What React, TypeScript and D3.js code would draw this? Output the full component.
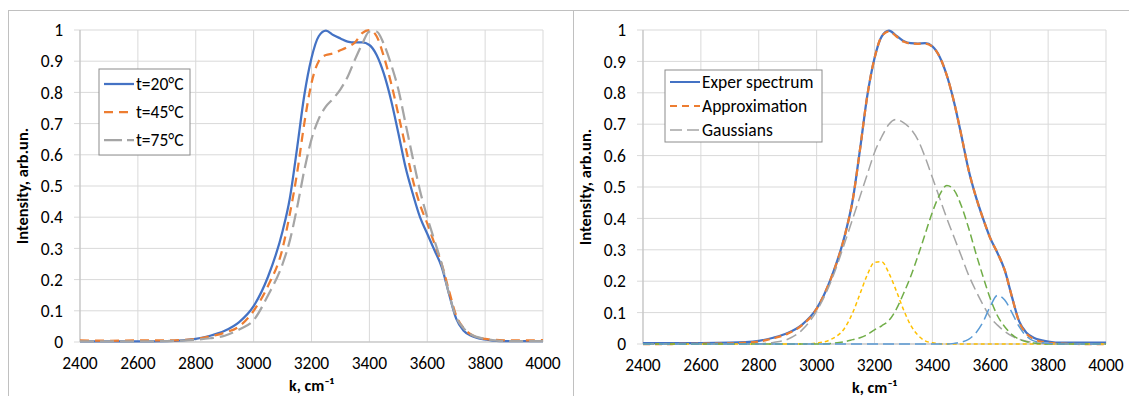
import React from 'react';
import * as d3 from 'd3';

// wavenumber grid, cm^-1
const K = [2400, 2500, 2600, 2700, 2800, 2850, 2900, 2950, 3000, 3050, 3100, 3125, 3150, 3175, 3200, 3225, 3250, 3275, 3300, 3325, 3350, 3375, 3400, 3425, 3450, 3475, 3500, 3525, 3550, 3575, 3600, 3625, 3650, 3675, 3700, 3725, 3750, 3800, 3850, 3900, 4000];

// left panel: spectra at three temperatures
const t20 = [0.002, 0.002, 0.002, 0.003, 0.01, 0.02, 0.036, 0.064, 0.115, 0.21, 0.355, 0.46, 0.62, 0.79, 0.91, 0.98, 0.998, 0.984, 0.973, 0.963, 0.96, 0.96, 0.952, 0.92, 0.86, 0.775, 0.67, 0.56, 0.475, 0.4, 0.347, 0.294, 0.24, 0.155, 0.075, 0.037, 0.021, 0.008, 0.003, 0.003, 0.003];
const t45 = [0.005, 0.004, 0.005, 0.005, 0.01, 0.018, 0.03, 0.05, 0.1, 0.18, 0.3, 0.41, 0.54, 0.7, 0.83, 0.9, 0.92, 0.925, 0.935, 0.946, 0.96, 0.99, 1.0, 0.98, 0.915, 0.83, 0.73, 0.625, 0.52, 0.44, 0.38, 0.315, 0.25, 0.165, 0.085, 0.045, 0.025, 0.01, 0.006, 0.005, 0.006];
const t75 = [0.002, 0.002, 0.002, 0.003, 0.007, 0.012, 0.02, 0.04, 0.07, 0.15, 0.25, 0.325, 0.43, 0.55, 0.65, 0.715, 0.755, 0.78, 0.81, 0.85, 0.905, 0.955, 0.995, 0.995, 0.955, 0.89, 0.81, 0.7, 0.59, 0.485, 0.4, 0.325, 0.25, 0.155, 0.08, 0.045, 0.025, 0.01, 0.004, 0.003, 0.003];

// right panel: experiment, fit and its gaussian components
const exper = [0.003, 0.003, 0.003, 0.004, 0.01, 0.02, 0.035, 0.062, 0.113, 0.21, 0.355, 0.46, 0.62, 0.79, 0.91, 0.98, 0.998, 0.982, 0.965, 0.958, 0.957, 0.958, 0.948, 0.915, 0.855, 0.77, 0.665, 0.555, 0.47, 0.4, 0.337, 0.29, 0.235, 0.15, 0.072, 0.036, 0.02, 0.008, 0.004, 0.004, 0.004];
const approx = [0.0, 0.0, 0.001, 0.002, 0.008, 0.018, 0.033, 0.06, 0.112, 0.21, 0.355, 0.46, 0.62, 0.79, 0.91, 0.98, 0.996, 0.98, 0.963, 0.957, 0.956, 0.957, 0.947, 0.915, 0.855, 0.77, 0.665, 0.555, 0.47, 0.4, 0.337, 0.29, 0.235, 0.15, 0.07, 0.033, 0.016, 0.004, 0.001, 0.0, 0.0];
const gBig = [0, 0, 0, 0, 0.001, 0.005, 0.015, 0.045, 0.105, 0.2, 0.33, 0.4, 0.47, 0.54, 0.61, 0.66, 0.7, 0.715, 0.705, 0.685, 0.65, 0.595, 0.53, 0.465, 0.4, 0.34, 0.28, 0.22, 0.17, 0.125, 0.085, 0.06, 0.04, 0.025, 0.015, 0.009, 0.005, 0.001, 0, 0, 0];
const gLow = [0, 0, 0, 0, 0, 0, 0, 0, 0.003, 0.015, 0.055, 0.1, 0.16, 0.22, 0.26, 0.262, 0.225, 0.17, 0.11, 0.06, 0.028, 0.01, 0.004, 0.001, 0, 0, 0, 0, 0, 0, 0, 0, 0, 0, 0, 0, 0, 0, 0, 0, 0];
const gMid = [0, 0, 0, 0, 0, 0, 0, 0, 0, 0.002, 0.008, 0.014, 0.02, 0.03, 0.045, 0.058, 0.075, 0.11, 0.16, 0.215, 0.28, 0.35, 0.42, 0.475, 0.505, 0.49, 0.44, 0.37, 0.29, 0.215, 0.145, 0.09, 0.055, 0.03, 0.015, 0.007, 0.003, 0, 0, 0, 0];
const gHigh = [0, 0, 0, 0, 0, 0, 0, 0, 0, 0, 0, 0, 0, 0, 0, 0, 0, 0, 0, 0, 0, 0, 0, 0, 0, 0.002, 0.006, 0.015, 0.035, 0.07, 0.12, 0.155, 0.14, 0.1, 0.055, 0.025, 0.01, 0.002, 0, 0, 0];

const xTicks = [2400, 2600, 2800, 3000, 3200, 3400, 3600, 3800, 4000];
const yTicks = [0, 0.1, 0.2, 0.3, 0.4, 0.5, 0.6, 0.7, 0.8, 0.9, 1];

const FONT = 'Carlito, Calibri, Lato, sans-serif';

type Series = { values: number[]; color: string; width: number; dash?: string };
type LegendItem = { label: string; color: string; width: number; dash?: string };

function Panel({ left, bottom, series, legend, legendBox }: {
  left: number; bottom: number; series: Series[]; legend: LegendItem[];
  legendBox: { x: number; y: number; w: number; h: number; step: number; first: number };
}) {
  const right = left + 463;
  const top = 30;
  const x = d3.scaleLinear().domain([2400, 4000]).range([left, right]);
  const y = d3.scaleLinear().domain([0, 1]).range([bottom, top]);
  const line = (vals: number[]) =>
    d3.line<number>().x((_, i) => x(K[i])).y(d => y(d)).curve(d3.curveMonotoneX)(vals) || '';

  return (
    <g>
      {xTicks.map(t => (
        <line key={'vx' + t} x1={x(t)} x2={x(t)} y1={top} y2={bottom} stroke="#d9d9d9" />
      ))}
      {yTicks.map(t => (
        <line key={'hy' + t} x1={left - 6} x2={right} y1={y(t)} y2={y(t)} stroke="#d9d9d9" />
      ))}
      <line x1={left} x2={left} y1={top} y2={bottom} stroke="#bfbfbf" />
      <line x1={left} x2={right} y1={bottom} y2={bottom} stroke="#bfbfbf" />
      {yTicks.map(t => (
        <text key={'ly' + t} x={left - 17} y={y(t)} dy="0.35em" textAnchor="end" fontSize={17.5} fill="#000">
          {d3.format('~g')(t)}
        </text>
      ))}
      {xTicks.map(t => (
        <text key={'lx' + t} x={x(t)} y={bottom + 27} textAnchor="middle" fontSize={17.5} fill="#000">
          {t}
        </text>
      ))}
      <text transform={`translate(${left - 52},${(top + bottom) / 2}) rotate(-90)`} textAnchor="middle"
        fontSize={16.5} fontWeight="bold" fill="#000">Intensity, arb.un.</text>
      <text x={(left + right) / 2} y={bottom + 49} textAnchor="middle" fontSize={16} fontWeight="bold" fill="#000">
        k, cm⁻¹
      </text>
      {series.map((s, i) => (
        <path key={'s' + i} d={line(s.values)} fill="none" stroke={s.color} strokeWidth={s.width}
          strokeDasharray={s.dash} strokeLinejoin="round" />
      ))}
      <rect x={legendBox.x} y={legendBox.y} width={legendBox.w} height={legendBox.h} fill="#fff" stroke="#8c8c8c" />
      {legend.map((l, i) => {
        const ly = legendBox.first + i * legendBox.step;
        return (
          <g key={'lg' + i}>
            <line x1={legendBox.x + 5} x2={legendBox.x + 35} y1={ly} y2={ly} stroke={l.color}
              strokeWidth={l.width} strokeDasharray={l.dash} />
            <text x={legendBox.x + 37} y={ly} dy="0.35em" fontSize={17.5} fill="#000">{l.label}</text>
          </g>
        );
      })}
    </g>
  );
}

export default function App() {
  const leftSeries: Series[] = [
    { values: t20, color: '#4472C4', width: 2.25 },
    { values: t45, color: '#ED7D31', width: 2.25, dash: '9,6' },
    { values: t75, color: '#A5A5A5', width: 2.25, dash: '14,6' },
  ];
  const rightSeries: Series[] = [
    { values: exper, color: '#4472C4', width: 2.25 },
    { values: approx, color: '#ED7D31', width: 2.25, dash: '7,5' },
    { values: gBig, color: '#A5A5A5', width: 1.5, dash: '11,5' },
    { values: gLow, color: '#FFC000', width: 1.5, dash: '4,3' },
    { values: gMid, color: '#70AD47', width: 1.5, dash: '8,4' },
    { values: gHigh, color: '#5B9BD5', width: 1.5, dash: '11,5' },
  ];
  return (
    <svg width={1129} height={396} style={{ position: 'absolute', left: 0, top: 0, background: '#fff' }}
      fontFamily={FONT}>
      <rect x={0} y={0} width={1129} height={396} fill="#fff" />
      <line x1={8} x2={1129} y1={10.5} y2={10.5} stroke="#c0c0c0" />
      <line x1={8.5} x2={8.5} y1={10} y2={396} stroke="#c0c0c0" />
      <line x1={573.5} x2={573.5} y1={10} y2={396} stroke="#c0c0c0" />
      <Panel left={80} bottom={342} series={leftSeries}
        legend={[
          { label: 't=20°C', color: '#4472C4', width: 2.25 },
          { label: 't=45°C', color: '#ED7D31', width: 2.25, dash: '9,6' },
          { label: 't=75°C', color: '#A5A5A5', width: 2.25, dash: '18,5' },
        ]}
        legendBox={{ x: 99, y: 69, w: 91, h: 86, step: 28, first: 84 }} />
      <Panel left={643} bottom={344} series={rightSeries}
        legend={[
          { label: 'Exper spectrum', color: '#4472C4', width: 2 },
          { label: 'Approximation', color: '#ED7D31', width: 2, dash: '7,5' },
          { label: 'Gaussians', color: '#A5A5A5', width: 1.5, dash: '12,5' },
        ]}
        legendBox={{ x: 665, y: 70, w: 157, h: 72, step: 24, first: 82 }} />
    </svg>
  );
}
